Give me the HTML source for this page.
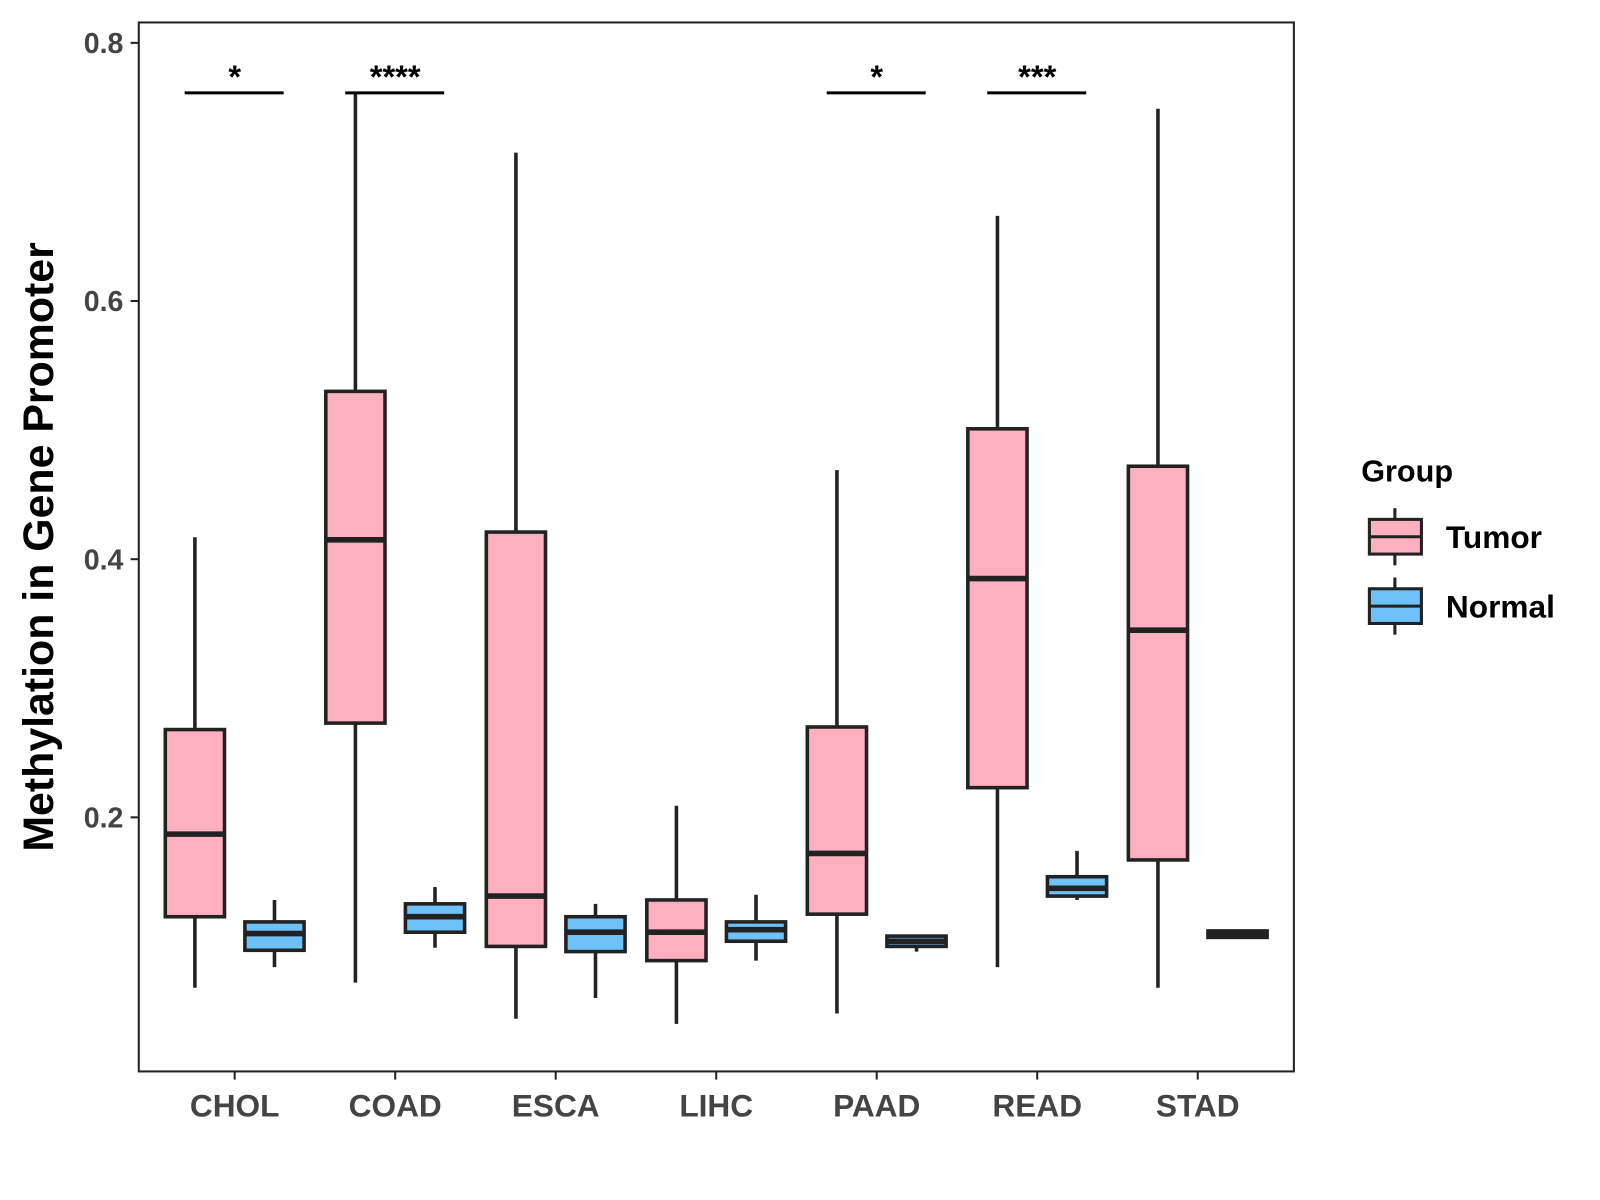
<!DOCTYPE html>
<html><head><meta charset="utf-8"><style>
html,body{margin:0;padding:0;background:#fff;}
svg{display:block;font-family:"Liberation Sans",Arial,sans-serif;font-weight:bold;}
</style></head><body>
<svg id="chart" width="1600" height="1200" viewBox="0 0 1600 1200">
<g transform="scale(1.0204)">
<rect x="136" y="22" width="1132" height="1028" fill="#fff" stroke="#222" stroke-width="2"/>
<g id="marks"></g>
<text transform="translate(52,536) rotate(-90)" text-anchor="middle" font-size="42" fill="#000">Methylation in Gene Promoter</text>
<g>
<text x="1334" y="472" font-size="30" fill="#000">Group</text>
<g>
<line x1="1367" y1="498" x2="1367" y2="554" stroke="#222" stroke-width="3"/>
<rect x="1342" y="509" width="51" height="34" fill="#FFB0C0" stroke="#222" stroke-width="3"/>
<line x1="1342" y1="526" x2="1393" y2="526" stroke="#222" stroke-width="3"/>
<text x="1417" y="537" font-size="31" fill="#000">Tumor</text></g>
<g>
<line x1="1367" y1="566" x2="1367" y2="622" stroke="#222" stroke-width="3"/>
<rect x="1342" y="577" width="51" height="34" fill="#6EC1F7" stroke="#222" stroke-width="3"/>
<line x1="1342" y1="594" x2="1393" y2="594" stroke="#222" stroke-width="3"/>
<text x="1417" y="605" font-size="31" fill="#000">Normal</text></g>
</g>
</g>
</svg>
<script>
const categories=["CHOL","COAD","ESCA","LIHC","PAAD","READ","STAD"];
// [low, q1, median, q3, high]
const tumorStats=[[0.068,0.123,0.187,0.268,0.417],[0.072,0.273,0.415,0.530,0.762],[0.044,0.100,0.139,0.421,0.715],[0.040,0.089,0.111,0.136,0.209],[0.048,0.125,0.172,0.270,0.469],[0.084,0.223,0.385,0.501,0.666],[0.068,0.167,0.345,0.472,0.749]];
const normalStats=[[0.084,0.097,0.110,0.119,0.136],[0.099,0.111,0.123,0.133,0.146],[0.060,0.096,0.111,0.123,0.133],[0.089,0.104,0.113,0.119,0.140],[0.096,0.100,0.104,0.108,0.108],[0.136,0.139,0.145,0.154,0.174],[0.106,0.107,0.110,0.112,0.113]];
const yTicks=[0.2,0.4,0.6,0.8];
const sigLabels=["*","****","","","*","***",""];
const NS="http://www.w3.org/2000/svg";
const g=document.getElementById('marks');
function y(v){return 801-(v-0.2)*1265;}
function x(i){return 230+i*157.3;}
function mk(tag,attrs,parent){const e=document.createElementNS(NS,tag);for(const k in attrs)e.setAttribute(k,attrs[k]);(parent||g).appendChild(e);return e;}
yTicks.forEach((t,i)=>{
  const tk=mk('line',{x1:128,x2:136,y1:y(t),y2:y(t),stroke:'#222','stroke-width':2});
  
  
  const tx=mk('text',{x:121,y:y(t)+10,'text-anchor':'end','font-size':28,fill:'#444'});
  tx.textContent=t.toFixed(1);
  
  
});
function box(cx,s,fill,name){
  const grp=mk('g',{});
  
  
  mk('line',{x1:cx,x2:cx,y1:y(s[0]),y2:y(s[4]),stroke:'#222','stroke-width':3.5},grp);
  mk('rect',{x:cx-29,y:y(s[3]),width:58,height:Math.max(y(s[1])-y(s[3]),1),fill:fill,stroke:'#222','stroke-width':3.5},grp);
  mk('line',{x1:cx-29,x2:cx+29,y1:y(s[2]),y2:y(s[2]),stroke:'#222','stroke-width':5.5},grp);
}
categories.forEach((c,i)=>{
  const cx=x(i);
  box(cx-39,tumorStats[i],'#FFB0C0','box-tumor-'+c.toLowerCase());
  box(cx+39,normalStats[i],'#6EC1F7','box-normal-'+c.toLowerCase());
  const tk=mk('line',{x1:cx,x2:cx,y1:1050,y2:1058,stroke:'#222','stroke-width':2});
  
  
  const tx=mk('text',{x:cx,y:1094,'text-anchor':'middle','font-size':31,fill:'#444'});
  tx.textContent=c;
  
  
  if(sigLabels[i]){
    const sl=mk('line',{x1:cx-49,x2:cx+48,y1:91,y2:91,stroke:'#000','stroke-width':3});
    
    
    const st=mk('text',{x:cx,y:86,'text-anchor':'middle','font-size':32,fill:'#000'});
    st.textContent=sigLabels[i];
    
    
  }
});
</script>
</body></html>
